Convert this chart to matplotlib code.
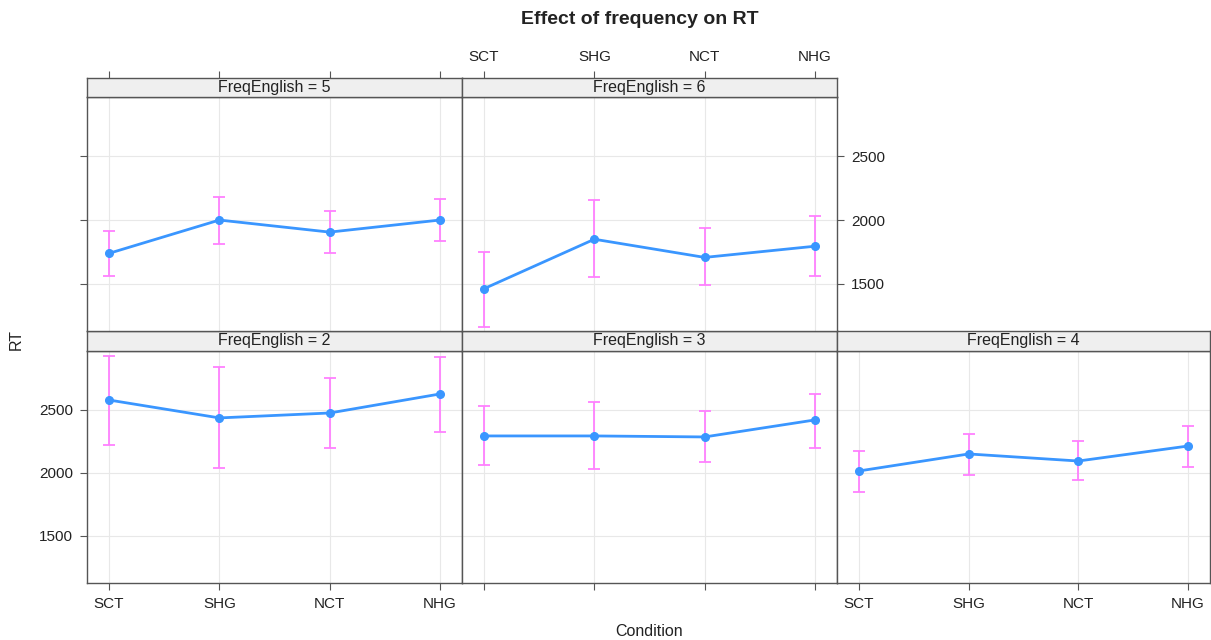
import numpy as np
import matplotlib
matplotlib.use("Agg")
import matplotlib.pyplot as plt

plt.rcParams['font.family'] = ['Liberation Sans', 'DejaVu Sans']

# data
conditions = ["SCT", "SHG", "NCT", "NHG"]
freq_levels = [2, 3, 4, 5, 6]
rt_fit = {
    2: [2579, 2437, 2476, 2627],
    3: [2294, 2294, 2286, 2421],
    4: [2016, 2151, 2095, 2214],
    5: [1738, 2000, 1905, 2000],
    6: [1460, 1849, 1706, 1794],
}
rt_lower = {
    2: [2222, 2040, 2198, 2325],
    3: [2063, 2032, 2087, 2198],
    4: [1849, 1984, 1944, 2048],
    5: [1556, 1810, 1738, 1833],
    6: [1159, 1548, 1492, 1556],
}
rt_upper = {
    2: [2929, 2841, 2754, 2921],
    3: [2532, 2563, 2492, 2627],
    4: [2175, 2310, 2254, 2373],
    5: [1913, 2183, 2071, 2167],
    6: [1746, 2159, 1937, 2032],
}
y_ticks = [1500, 2000, 2500]

W, H = 1211, 640
fig = plt.figure(figsize=(W / 100, H / 100), dpi=100)

def px_axes(x0, y0, x1, y1):
    return fig.add_axes([x0 / W, 1 - y1 / H, (x1 - x0) / W, (y1 - y0) / H])

cols = [(87, 462), (462, 837), (837, 1210)]
rows = {"top": ((78, 97), (97, 331)), "bottom": ((331, 351), (351, 583))}
# where each level sits in the lattice
place = {2: ("bottom", 0), 3: ("bottom", 1), 4: ("bottom", 2), 5: ("top", 0), 6: ("top", 1)}

edge = '#555555'
txt = '#222222'
line_col = '#3a96ff'
err_col = '#ff80ff'
tick_fs = 11
x = np.arange(1, len(conditions) + 1)

for lev in freq_levels:
    r, c = place[lev]
    (sy0, sy1), (py0, py1) = rows[r]
    x0, x1 = cols[c]

    ax = px_axes(x0, py0, x1, py1)
    st = px_axes(x0, sy0, x1, sy1)

    fit = np.array(rt_fit[lev])
    lo = np.array(rt_lower[lev])
    hi = np.array(rt_upper[lev])

    ax.set_xlim(0.8, 4.2)
    ax.set_ylim(1127, 2968)
    ax.set_xticks(x)
    ax.set_xticklabels(conditions)
    ax.set_yticks(y_ticks)
    ax.grid(True, color='#e8e8e8', lw=0.8)
    ax.set_axisbelow(True)
    ax.errorbar(x, fit, yerr=[fit - lo, hi - fit], fmt='none', ecolor=err_col,
                elinewidth=1.3, capsize=4.5, capthick=1.3, zorder=2)
    ax.plot(x, fit, color=line_col, lw=2, marker='o', ms=5.5, zorder=3)

    for s in ax.spines.values():
        s.set_color(edge)
        s.set_linewidth(1)
    ax.tick_params(which='both', direction='out', length=5, width=0.8, color=edge,
                   labelcolor=txt, labelsize=tick_fs, pad=5,
                   left=False, right=False, top=False, bottom=False,
                   labelleft=False, labelright=False, labeltop=False, labelbottom=False)

    # strip
    st.set_facecolor('#efefef')
    st.set_xlim(0.8, 4.2)
    st.set_ylim(0, 1)
    st.set_yticks([])
    st.set_xticks(x)
    st.set_xticklabels(conditions)
    for s in st.spines.values():
        s.set_color(edge)
        s.set_linewidth(1)
    st.tick_params(which='both', direction='out', length=5, width=0.8, color=edge,
                   labelcolor=txt, labelsize=tick_fs, pad=5,
                   top=False, bottom=False, labeltop=False, labelbottom=False)
    st.text(0.5, 0.5, f"FreqEnglish = {lev}", transform=st.transAxes,
            ha='center', va='center', fontsize=11.5, color=txt)

    # lattice-style alternating axes
    if lev == 2:
        ax.tick_params(left=True, labelleft=True, bottom=True, labelbottom=True)
    elif lev == 3:
        ax.tick_params(bottom=True)
    elif lev == 4:
        ax.tick_params(bottom=True, labelbottom=True, right=True)
    elif lev == 5:
        ax.tick_params(left=True)
        st.tick_params(top=True)
    elif lev == 6:
        ax.tick_params(right=True, labelright=True)
        st.tick_params(top=True, labeltop=True)

fig.text(640 / W, 1 - 20 / H, "Effect of frequency on RT", ha='center', va='center',
         fontsize=14, fontweight='bold', color=txt)
fig.text(649 / W, 1 - 632 / H, "Condition", ha='center', va='center', fontsize=11.5, color=txt)
fig.text(16 / W, 1 - 340 / H, "RT", ha='center', va='center', rotation=90, fontsize=11.5, color=txt)

fig.savefig("out.png", dpi=100)
